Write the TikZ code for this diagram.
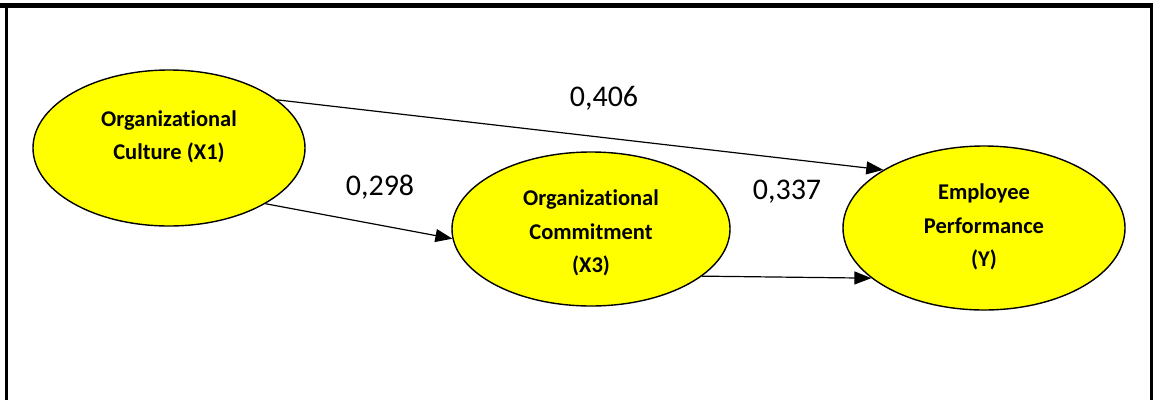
\documentclass[tikz,border=0pt]{standalone}
\usepackage{fontspec}
\setmainfont{Carlito}[Ligatures=NoCommon]
\usetikzlibrary{arrows.meta,shapes.geometric}
\definecolor{ylw}{RGB}{255,255,0}
\begin{document}
\begin{tikzpicture}[x=1pt,y=1pt,
  latent/.style={ellipse,draw=black,line width=1.4pt,fill=ylw,inner sep=0pt},
  lbl/.style={align=center,inner sep=0pt,font=\bfseries\fontsize{22.5}{33.5}\selectfont},
  path/.style={line width=1.2pt,-{Triangle[length=17pt,width=13pt]}},
  coef/.style={font=\fontsize{30}{30}\selectfont,inner sep=0pt},
  frame/.style={black}]
\useasboundingbox (0,-400) rectangle (1153,0);
\fill[white] (0,-400) rectangle (1153,0);
% frame
\draw[frame,line width=5pt] (0,-5.5) -- (1153,-5.5);
\draw[frame,line width=2.5pt] (6.5,-3) -- (6.5,-400);
\draw[frame,line width=2.5pt] (1151.5,-3) -- (1151.5,-400);
% constructs
\node[latent,minimum width=272pt,minimum height=156pt] (oc) at (169,-148) {};
\node[latent,minimum width=278pt,minimum height=154pt] (ocm) at (591,-229) {};
\node[latent,minimum width=282pt,minimum height=164pt] (ep) at (984,-228) {};
\node[lbl] (oct) at (169,-137) {Organizational\\Culture (X1)};
\node[lbl] (ocmt) at (591,-233) {Organizational\\Commitment\\(X3)};
\node[lbl] (ept) at (984,-227) {Employee\\Performance\\(Y)};
% paths
\draw[path] (oc.24) -- (ep.150);
\draw[path] (oc.-30) -- (ocm.184);
\draw[path] (ocm.-23) -- (ep.204);
% coefficients
\node[coef] (c1) at (604,-98) {0,406};
\node[coef] (c2) at (380,-187) {0,298};
\node[coef] (c3) at (787,-192) {0,337};
\end{tikzpicture}
\end{document}
